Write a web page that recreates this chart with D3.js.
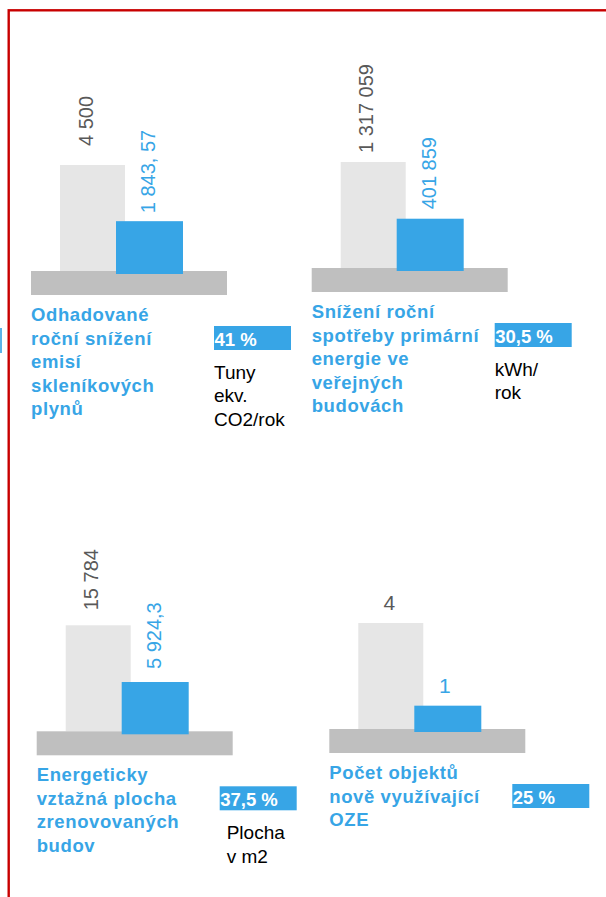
<!DOCTYPE html>
<html>
<head>
<meta charset="utf-8">
<script src="https://cdn.jsdelivr.net/npm/d3@7"></script>
<style>
  html, body { margin: 0; padding: 0; background: #ffffff; }
  svg { display: block; }
</style>
</head>
<body>
<svg id="chart" width="606" height="897"></svg>
<script>
// ---------------- DATA ----------------
const titles = [
  ["Odhadované", "roční snížení", "emisí", "skleníkových", "plynů"],
  ["Snížení roční", "spotřeby primární", "energie ve", "veřejných", "budovách"],
  ["Energeticky", "vztažná plocha", "zrenovovaných", "budov"],
  ["Počet objektů", "nově využívající", "OZE"]
];
const baselineValues = [4500, 1317059, 15784, 4];
const reducedValues = [1843.57, 401859, 5924.3, 1];
const baselineLabels = ["4 500", "1 317 059", "15 784", "4"];
const reducedLabels = ["1 843, 57", "401 859", "5 924,3", "1"];
const percentLabels = ["41 %", "30,5 %", "37,5 %", "25 %"];
const unitLabels = [["Tuny", "ekv.", "CO2/rok"], ["kWh/", "rok"], ["Plocha", "v m2"], []];
// height of the blue bar relative to the grey bar, as drawn in the infographic
const drawnShare = [0.47, 0.465, 0.465, 0.22];

// ---------------- LAYOUT ----------------
const BLUE = "#37a5e6", LIGHT = "#e6e6e6", BASE = "#bfbfbf", LABEL_GREY = "#595959";
const FONT = "'Liberation Sans', Arial, sans-serif";
const panelOrigins = [[31, 271], [311.7, 268], [36.7, 731.3], [329.3, 729]]; // base left / base top
const greyGap = [19, 9, 15, 12.6];
const blueGap = [8, 9.4, 13, 12.4];
const unitIndent = [0, 0, 7, 0];
const rotated = [true, true, true, false];

const svg = d3.select("#chart");

// red frame
svg.append("rect")
  .attr("x", 8.7).attr("y", 10.3)
  .attr("width", 700).attr("height", 1000)
  .attr("fill", "none").attr("stroke", "#c80000").attr("stroke-width", 2.4);

// small blue mark at left edge
svg.append("line")
  .attr("x1", 1).attr("x2", 1).attr("y1", 328).attr("y2", 353)
  .attr("stroke", "#5ab4ea").attr("stroke-width", 2);

const x = d3.scaleBand().domain(["before", "after"]).range([0, 1]);
const h = d3.scaleLinear().domain([0, 1]).range([0, 106]);

titles.forEach((title, i) => {
  const [ox, oy] = panelOrigins[i];
  const g = svg.append("g").attr("transform", `translate(${ox},${oy})`);

  const greyH = h(1);
  const blueH = h(drawnShare[i]);
  const greyX = 29, greyW = 65, blueX = 85, blueW = 67;

  // grey (before) bar
  g.append("rect").attr("x", greyX).attr("y", -greyH).attr("width", greyW).attr("height", greyH)
    .attr("fill", LIGHT);
  // base
  g.append("rect").attr("x", 0).attr("y", 0).attr("width", 196).attr("height", 24).attr("fill", BASE);
  // blue (after) bar, overlapping base slightly
  g.append("rect").attr("x", blueX).attr("y", -blueH).attr("width", blueW).attr("height", blueH + 3)
    .attr("fill", BLUE);

  // value labels
  const greyCx = greyX + greyW / 2, blueCx = blueX + blueW / 2;
  if (rotated[i]) {
    g.append("text")
      .attr("transform", `translate(${greyCx},${-greyH - greyGap[i]}) rotate(-90)`)
      .attr("font-family", FONT).attr("font-size", 20).attr("fill", LABEL_GREY)
      .attr("text-anchor", "start")
      .text(baselineLabels[i]);
    g.append("text")
      .attr("transform", `translate(${blueCx + 5.5},${-blueH - blueGap[i]}) rotate(-90)`)
      .attr("font-family", FONT).attr("font-size", 20).attr("fill", BLUE)
      .attr("text-anchor", "start")
      .text(reducedLabels[i]);
  } else {
    g.append("text")
      .attr("x", greyCx - 1.5).attr("y", -greyH - greyGap[i])
      .attr("font-family", FONT).attr("font-size", 21).attr("fill", LABEL_GREY)
      .attr("text-anchor", "middle")
      .text(baselineLabels[i]);
    g.append("text")
      .attr("x", blueCx - 3).attr("y", -blueH - blueGap[i])
      .attr("font-family", FONT).attr("font-size", 21).attr("fill", BLUE)
      .attr("text-anchor", "middle")
      .text(reducedLabels[i]);
  }

  // title
  const t = g.append("text")
    .attr("font-family", FONT).attr("font-size", 18.5).attr("font-weight", "bold")
    .attr("fill", BLUE).attr("letter-spacing", 0.6);
  title.forEach((line, k) => {
    t.append("tspan").attr("x", 0).attr("y", 50 + k * 23.6).text(line);
  });

  // percent box
  g.append("rect").attr("x", 183).attr("y", 55).attr("width", 77).attr("height", 24).attr("fill", BLUE);
  g.append("text").attr("x", 183.5).attr("y", 74.5)
    .attr("font-family", FONT).attr("font-size", 18.5).attr("font-weight", "bold")
    .attr("fill", "#ffffff")
    .text(percentLabels[i]);

  // units
  const u = g.append("text")
    .attr("font-family", FONT).attr("font-size", 19).attr("fill", "#000000");
  unitLabels[i].forEach((line, k) => {
    u.append("tspan").attr("x", 183 + unitIndent[i]).attr("y", 108 + k * 23.4).text(line);
  });
});
</script>
</body>
</html>
